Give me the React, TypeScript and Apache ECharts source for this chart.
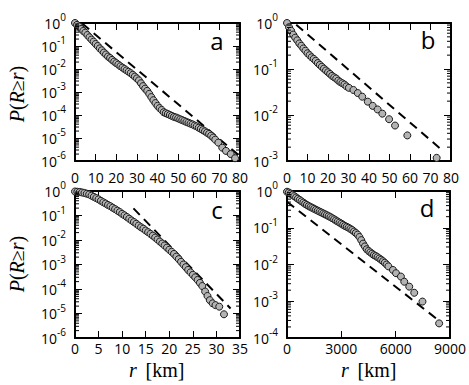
import React, { useEffect, useRef } from "react";
import * as echarts from "echarts";

// ---- Panel a ----
const aR = [0,1,2,3,4,5,6,7,8,9,10,11,12,13,14,15,16,17,18,19,20,21,22,23,24,25,26,27,28,29,30,31,32,33,34,35,36,37,38,39,40,41,42,43,44,45,46,47,48,49,50,51,52,53,54,55,56,57,58,59,60,61,62,63,64,65,66,67,68,69.5,71.4,73.2,75.5,77.6];
const aP = [1.0,0.83,0.71,0.55,0.45,0.38,0.30,0.24,0.19,0.155,0.123,0.10,0.079,0.065,0.052,0.043,0.035,0.030,0.025,0.021,0.018,0.0155,0.0132,0.0115,0.010,0.0087,0.0076,0.0066,0.0056,0.0047,0.0039,0.0032,0.0024,0.0018,0.0014,0.00112,0.00083,0.0006,0.00044,0.00033,0.00025,0.0002,0.000166,0.000132,0.00012,0.00011,0.0001,9.1e-5,8.3e-5,7.8e-5,7.1e-5,6.5e-5,6.0e-5,5.5e-5,5.0e-5,4.6e-5,4.2e-5,3.9e-5,3.5e-5,3.2e-5,2.8e-5,2.5e-5,2.2e-5,1.95e-5,1.7e-5,1.5e-5,1.26e-5,1.05e-5,8.5e-6,6.3e-6,3.8e-6,2.75e-6,2.0e-6,1.32e-6];
const aLineR = [3.5, 80];
const aLineP = [0.95, 1.6e-6];
const aXTicks = [0,10,20,30,40,50,60,70,80];
const aYRange = [1e-6, 1];

// ---- Panel b ----
const bR = [0,1,2,3,4,5,6,7,8,9,10,11,12,13,14,15,16,17,18,19,20,21,22,23,24,25,26,27,28,29,30.2,32.4,34.5,36.7,39.4,41.8,44.2,46.5,49.8,52.7,58.7,73];
const bP = [1,0.81,0.68,0.56,0.48,0.42,0.36,0.32,0.28,0.25,0.22,0.2,0.18,0.166,0.151,0.135,0.123,0.112,0.102,0.093,0.085,0.078,0.071,0.066,0.062,0.056,0.052,0.049,0.046,0.042,0.039,0.035,0.030,0.025,0.0195,0.0158,0.0132,0.0107,0.0081,0.0059,0.0036,0.00117];
const bLineR = [4.5, 76.5];
const bLineP = [0.92, 0.0016];
const bXTicks = [0,10,20,30,40,50,60,70,80];
const bYRange = [1e-3, 1];

// ---- Panel c ----
const cR = [0,0.5,1,1.5,2,2.5,3,3.5,4,4.5,5,5.5,6,6.5,7,7.5,8,8.5,9,9.5,10,10.5,11,11.5,12,12.5,13,13.5,14,14.5,15,15.5,16,16.5,17,17.5,18,18.5,19,19.5,20,20.5,21,21.5,22,22.5,23,23.5,24,24.5,25,25.5,26,26.5,27,27.6,28.1,28.6,29.2,29.8,30.6,31.6];
const cP = [0.955,0.933,0.912,0.871,0.832,0.776,0.724,0.646,0.575,0.513,0.457,0.398,0.347,0.309,0.269,0.240,0.209,0.182,0.158,0.138,0.117,0.102,0.087,0.074,0.063,0.054,0.046,0.039,0.033,0.029,0.0245,0.0209,0.0178,0.0151,0.0126,0.0105,0.0087,0.0072,0.006,0.0049,0.004,0.0033,0.0027,0.0021,0.00166,0.00129,0.001,0.00078,0.0006,0.00048,0.00038,0.0003,0.000234,0.000178,0.000132,7.9e-5,5.2e-5,3.5e-5,2.6e-5,2.2e-5,1.9e-5,9.3e-6];
const cLineR = [12.4, 33];
const cLineP = [0.195, 1.6e-5];
const cXTicks = [0,5,10,15,20,25,30,35];
const cYRange = [1e-6, 1];

// ---- Panel d ----
const dR = [0,100,200,300,400,500,600,700,800,900,1000,1100,1200,1300,1400,1500,1600,1700,1800,1900,2000,2100,2200,2300,2400,2500,2600,2700,2800,2900,3000,3100,3200,3300,3400,3500,3600,3700,3800,3900,4000,4100,4200,4300,4400,4500,4600,4700,4800,4900,5000,5100,5200,5300,5400,5500,5600,5850,6020,6290,6475,6750,7025,7480,8400];
const dP = [0.955,0.912,0.851,0.785,0.724,0.668,0.617,0.569,0.525,0.484,0.447,0.417,0.389,0.367,0.347,0.327,0.309,0.292,0.275,0.26,0.245,0.232,0.219,0.207,0.195,0.182,0.17,0.158,0.148,0.138,0.129,0.12,0.112,0.106,0.1,0.093,0.087,0.079,0.072,0.065,0.056,0.046,0.037,0.031,0.026,0.0234,0.0214,0.0197,0.018,0.017,0.0158,0.0146,0.0135,0.0123,0.0112,0.01,0.0089,0.0071,0.0058,0.0047,0.0034,0.0025,0.0017,0.00098,0.00025];
const dLineR = [0, 8500];
const dLineP = [0.51, 0.00027];
const dXTicks = [0,3000,6000,9000];
const dYRange = [1e-4, 1];

const panelLabels = ["a", "b", "c", "d"];

const FONT = "Open Sans";
const SERIF = "Liberation Serif";

export default function App() {
  const ref = useRef<HTMLDivElement>(null);
  useEffect(() => {
    if (!ref.current) return;
    const chart = echarts.init(ref.current, undefined, { renderer: "svg" });

    const panels = [
      { r: aR, p: aP, lr: aLineR, lp: aLineP, xt: aXTicks, yr: aYRange },
      { r: bR, p: bP, lr: bLineR, lp: bLineP, xt: bXTicks, yr: bYRange },
      { r: cR, p: cP, lr: cLineR, lp: cLineP, xt: cXTicks, yr: cYRange },
      { r: dR, p: dP, lr: dLineR, lp: dLineP, xt: dXTicks, yr: dYRange },
    ];
    const grids = [
      { left: 75, top: 23, width: 165, height: 138 },
      { left: 287, top: 23, width: 164, height: 138 },
      { left: 75, top: 191, width: 165, height: 147 },
      { left: 287, top: 191, width: 164, height: 147 },
    ];
    const xLabelMargin = [9, 9, 3, 3];
    const labelPos = [
      [217, 40],
      [428, 39],
      [217, 209],
      [427, 207],
    ];

    const axisLine = { onZero: false, lineStyle: { color: "#000", width: 2 } };
    const xAxis: any[] = [];
    const yAxis: any[] = [];
    const series: any[] = [];

    panels.forEach((pn, i) => {
      const xMax = pn.xt[pn.xt.length - 1];
      const xInt = pn.xt[1] - pn.xt[0];
      const base = {
        type: "value",
        gridIndex: i,
        min: 0,
        max: xMax,
        interval: xInt,
        axisLine,
        axisTick: { inside: true, length: 7, lineStyle: { color: "#000", width: 1 } },
        splitLine: { show: false },
      };
      xAxis.push({
        ...base,
        position: "bottom",
        axisLabel: {
          fontFamily: FONT,
          fontSize: 14,
          lineHeight: 14,
          color: "#000",
          margin: xLabelMargin[i],
          showMinLabel: true,
          showMaxLabel: true,
          formatter: (v: number) => String(v),
        },
      });
      xAxis.push({ ...base, position: "top", axisLabel: { show: false } });

      const ybase = {
        type: "log",
        logBase: 10,
        gridIndex: i,
        min: pn.yr[0],
        max: pn.yr[1],
        axisLine,
        axisTick: { inside: true, length: 7, lineStyle: { color: "#000", width: 1 } },
        splitLine: { show: false },
      };
      yAxis.push({
        ...ybase,
        position: "left",
        axisLabel: {
          margin: 9,
          showMinLabel: true,
          showMaxLabel: true,
          formatter: (v: number) => {
            const e = Math.round(Math.log10(v));
            return `{b|10}{s|${e}}`;
          },
          rich: {
            b: { fontFamily: FONT, fontSize: 14, color: "#000", lineHeight: 22, verticalAlign: "middle" },
            s: { fontFamily: FONT, fontSize: 10, color: "#000", lineHeight: 12, verticalAlign: "top" },
          },
        },
      });
      yAxis.push({ ...ybase, position: "right", axisLabel: { show: false } });

      // minor log ticks
      const lo = Math.round(Math.log10(pn.yr[0]));
      const hi = Math.round(Math.log10(pn.yr[1]));
      const minor: number[][] = [];
      for (let e = lo; e < hi; e++) {
        for (let m = 2; m <= 9; m++) minor.push([0, m * Math.pow(10, e)]);
      }
      series.push({
        type: "custom",
        xAxisIndex: 2 * i,
        yAxisIndex: 2 * i,
        silent: true,
        clip: false,
        z: 5,
        data: minor,
        renderItem: (params: any, api: any) => {
          const v = api.value(1);
          const p1 = api.coord([0, v]);
          const p2 = api.coord([xMax, v]);
          const L = 4;
          return {
            type: "group",
            children: [
              { type: "line", shape: { x1: p1[0], y1: p1[1], x2: p1[0] + L, y2: p1[1] }, style: { stroke: "#000", lineWidth: 1 } },
              { type: "line", shape: { x1: p2[0] - L, y1: p2[1], x2: p2[0], y2: p2[1] }, style: { stroke: "#000", lineWidth: 1 } },
            ],
          };
        },
      });

      series.push({
        type: "line",
        xAxisIndex: 2 * i,
        yAxisIndex: 2 * i,
        data: pn.lr.map((x, k) => [x, pn.lp[k]]),
        symbol: "none",
        lineStyle: { color: "#000", width: 2, type: [9, 6] },
        z: 3,
        silent: true,
      });
      series.push({
        type: "scatter",
        xAxisIndex: 2 * i,
        yAxisIndex: 2 * i,
        data: pn.r.map((x, k) => [x, pn.p[k]]),
        symbol: "circle",
        symbolSize: 7,
        itemStyle: { color: "#b3b3b3", borderColor: "#1a1a1a", borderWidth: 1, opacity: 1 },
        z: 4,
        silent: true,
      });
    });

    const graphic: any[] = [];
    panelLabels.forEach((t, i) => {
      graphic.push({
        type: "text",
        x: labelPos[i][0],
        y: labelPos[i][1],
        style: { text: t, fontFamily: FONT, fontSize: 24, fill: "#000", textAlign: "center", textVerticalAlign: "middle", verticalAlign: "middle" },
      });
    });
    const yTitleRich = {
      i: { fontFamily: SERIF, fontStyle: "italic", fontSize: 20, fill: "#000", color: "#000" },
      n: { fontFamily: SERIF, fontSize: 20, fill: "#000", color: "#000" },
    };
    [94, 264].forEach((yc) => {
      graphic.push({
        type: "text",
        x: 17,
        y: yc,
        rotation: Math.PI / 2,
        style: {
          text: "{i|P}{n|(}{i|R}{n|≥}{i|r}{n|)}",
          rich: yTitleRich,
          textAlign: "center",
          verticalAlign: "middle",
          textVerticalAlign: "middle",
        },
      });
    });
    [157, 369].forEach((xc) => {
      graphic.push({
        type: "text",
        x: xc - 24,
        y: 370,
        style: {
          text: "r",
          fontFamily: SERIF,
          fontStyle: "italic",
          fontSize: 20,
          lineHeight: 16,
          fill: "#000",
          textAlign: "center",
          verticalAlign: "middle",
          textVerticalAlign: "middle",
        },
      });
      graphic.push({
        type: "text",
        x: xc + 8,
        y: 370,
        style: {
          text: "[km]",
          fontFamily: SERIF,
          fontSize: 20,
          lineHeight: 16,
          fill: "#000",
          textAlign: "center",
          verticalAlign: "middle",
          textVerticalAlign: "middle",
        },
      });
    });

    chart.setOption({
      animation: false,
      backgroundColor: "#fff",
      grid: grids,
      xAxis,
      yAxis,
      series,
      graphic,
    });
    return () => chart.dispose();
  }, []);
  return (
    <div
      ref={ref}
      style={{ position: "fixed", left: 0, top: 0, width: 469, height: 385 }}
    />
  );
}
